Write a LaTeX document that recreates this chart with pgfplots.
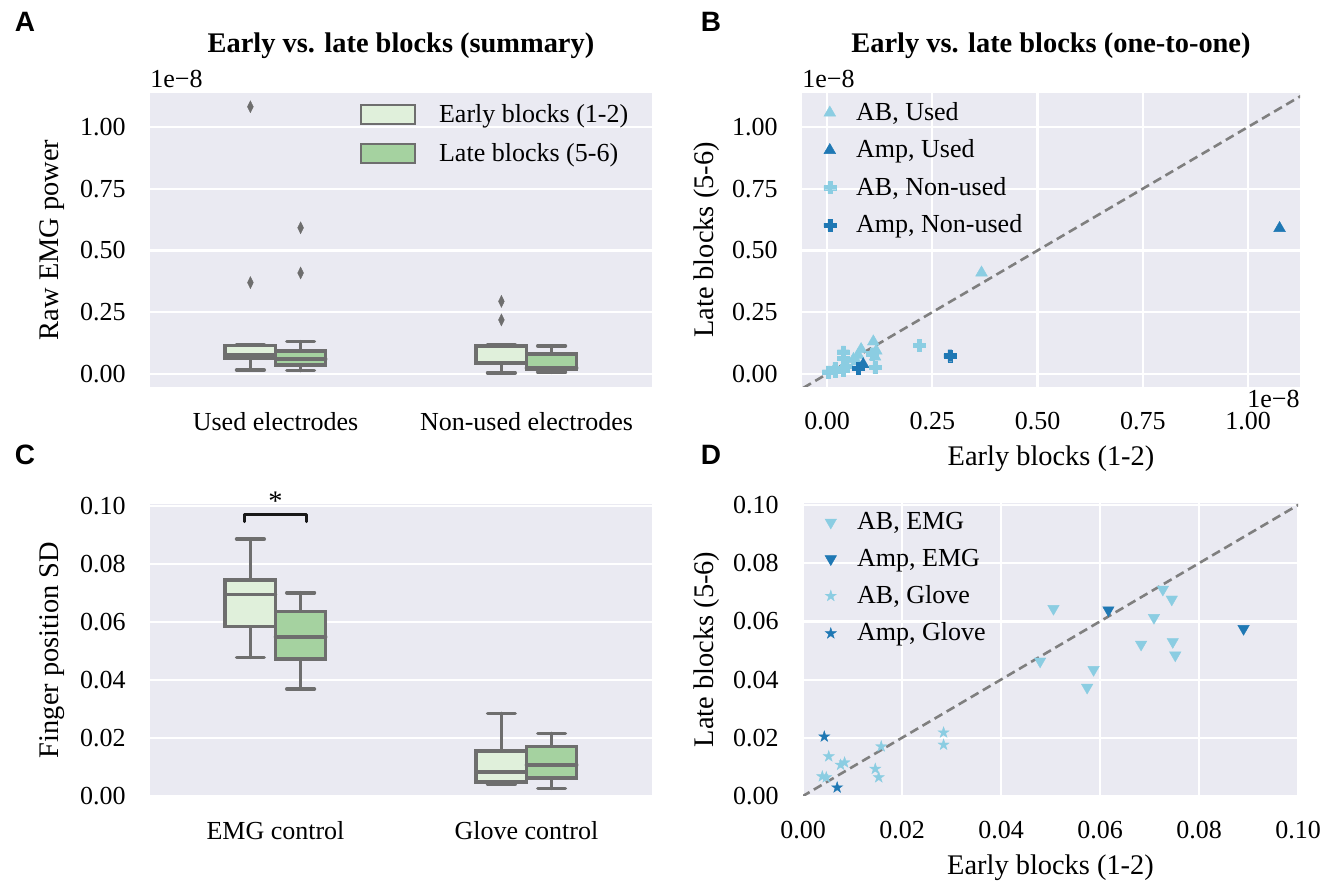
\documentclass[border=0pt]{standalone}
\usepackage{fontspec}
\setmainfont{Liberation Serif}
\newfontfamily\lettfont{Liberation Sans}
\usepackage{pgfplots}
\pgfplotsset{compat=1.18}
\usepgfplotslibrary{statistics}
\definecolor{bgc}{HTML}{EAEAF2}
\definecolor{earlyc}{HTML}{E0F0DB}
\definecolor{latec}{HTML}{A5D2A0}
\definecolor{boxg}{HTML}{6E6E6E}
\definecolor{lightb}{HTML}{8BCDE2}
\definecolor{darkb}{HTML}{1F78B4}
\definecolor{diag}{HTML}{7F7F7F}

\pgfdeclareplotmark{fplus}{%
  \pgfpathmoveto{\pgfpoint{-0.34\pgfplotmarksize}{-\pgfplotmarksize}}%
  \pgfpathlineto{\pgfpoint{0.34\pgfplotmarksize}{-\pgfplotmarksize}}%
  \pgfpathlineto{\pgfpoint{0.34\pgfplotmarksize}{-0.34\pgfplotmarksize}}%
  \pgfpathlineto{\pgfpoint{\pgfplotmarksize}{-0.34\pgfplotmarksize}}%
  \pgfpathlineto{\pgfpoint{\pgfplotmarksize}{0.34\pgfplotmarksize}}%
  \pgfpathlineto{\pgfpoint{0.34\pgfplotmarksize}{0.34\pgfplotmarksize}}%
  \pgfpathlineto{\pgfpoint{0.34\pgfplotmarksize}{\pgfplotmarksize}}%
  \pgfpathlineto{\pgfpoint{-0.34\pgfplotmarksize}{\pgfplotmarksize}}%
  \pgfpathlineto{\pgfpoint{-0.34\pgfplotmarksize}{0.34\pgfplotmarksize}}%
  \pgfpathlineto{\pgfpoint{-\pgfplotmarksize}{0.34\pgfplotmarksize}}%
  \pgfpathlineto{\pgfpoint{-\pgfplotmarksize}{-0.34\pgfplotmarksize}}%
  \pgfpathlineto{\pgfpoint{-0.34\pgfplotmarksize}{-0.34\pgfplotmarksize}}%
  \pgfpathclose\pgfusepathqfillstroke}
\pgfdeclareplotmark{fstar}{%
  \pgfpathmoveto{\pgfpointpolar{90}{\pgfplotmarksize}}%
  \pgfpathlineto{\pgfpointpolar{126}{0.382\pgfplotmarksize}}%
  \pgfpathlineto{\pgfpointpolar{162}{\pgfplotmarksize}}%
  \pgfpathlineto{\pgfpointpolar{198}{0.382\pgfplotmarksize}}%
  \pgfpathlineto{\pgfpointpolar{234}{\pgfplotmarksize}}%
  \pgfpathlineto{\pgfpointpolar{270}{0.382\pgfplotmarksize}}%
  \pgfpathlineto{\pgfpointpolar{306}{\pgfplotmarksize}}%
  \pgfpathlineto{\pgfpointpolar{342}{0.382\pgfplotmarksize}}%
  \pgfpathlineto{\pgfpointpolar{18}{\pgfplotmarksize}}%
  \pgfpathlineto{\pgfpointpolar{54}{0.382\pgfplotmarksize}}%
  \pgfpathclose\pgfusepathqfillstroke}

\pgfplotsset{
  sb/.style={
    scale only axis,
    axis background/.style={fill=bgc},
    axis line style={draw=none},
    grid=major,
    major grid style={draw=white, line width=1.1pt},
    major tick length=0pt,
    tick style={draw=none},
    scaled ticks=false,
    /pgf/number format/assume math mode=true,
    tick label style={font=\fontsize{13}{15}\selectfont},
    yticklabel style={xshift=-8.7pt},
    xticklabel style={yshift=-9pt},
    every axis y label/.style={at={(axis description cs:#1,0.5)}, rotate=90, anchor=center, font=\fontsize{14.2}{17}\selectfont},
    every axis x label/.style={at={(axis description cs:0.5,-0.245)}, anchor=center, font=\fontsize{14.2}{17}\selectfont},
    every axis title shift=0pt,
    title style={font=\bfseries\fontsize{14.2}{17}\selectfont, at={(0.5,1)}, anchor=center, yshift=23.5pt},
    legend style={draw=none, fill=none, font=\fontsize{13}{15}\selectfont,
      /tikz/every even column/.append style={column sep=0pt}},
    legend cell align=left,
    clip mode=individual,
  },
  bx/.style={forget plot, draw=boxg, line width=1.8pt, line cap=round, line join=miter,
    mark=diamond*, mark size=3pt, mark options={fill=boxg, draw=boxg, line width=0.2pt, xscale=0.65, solid},
    boxplot/draw direction=y, boxplot/box extend=0.2, boxplot/whisker extend=0.11},
  bxleg/.style={legend image code/.code={\draw[draw=boxg, line width=1pt, fill=#1] (0pt,-4.75pt) rectangle (27pt,4.75pt); \path (37pt,0pt);}},
  yfmt/.style={yticklabel style={/pgf/number format/.cd, fixed, fixed zerofill, precision=2}},
  xfmt/.style={xticklabel style={/pgf/number format/.cd, fixed, fixed zerofill, precision=2}},
  mkleg/.style={legend image code/.code={\path (-2pt,0pt) (19.5pt,0pt); \draw[mark repeat=2,mark phase=2,##1] plot coordinates {(0pt,0pt) (8.5pt,0pt) (17pt,0pt)};}},
}

\begin{document}
\begin{tikzpicture}
\useasboundingbox (0,0) rectangle (667.5pt,443pt);

% ---------------- Panel A ----------------
\begin{axis}[sb=-0.195, yfmt, xmajorgrids=false,
  at={(75pt,249.5pt)}, anchor=south west, width=251pt, height=147pt,
  xmin=-0.5, xmax=1.5, ymin=-0.0526, ymax=1.1377,
  xtick={0,1}, xticklabels={Used electrodes, Non-used electrodes},
  ytick={0,0.25,0.5,0.75,1},
  ylabel={Raw EMG power},
  title={Early vs. late blocks (summary)},
  legend style={at={(axis description cs:0.405,0.99)}, anchor=north west, row sep=4.8pt},
]
\addplot[bx, fill=earlyc, boxplot prepared={draw position=-0.1, lower whisker=0.016, lower quartile=0.063, median=0.078, upper quartile=0.115, upper whisker=0.117}]
  table[row sep=\\, y index=0] {y\\ 1.082\\ 0.370\\};
\addplot[bx, fill=latec, boxplot prepared={draw position=0.1, lower whisker=0.014, lower quartile=0.036, median=0.060, upper quartile=0.094, upper whisker=0.131}]
  table[row sep=\\, y index=0] {y\\ 0.592\\ 0.409\\};
\addplot[bx, fill=earlyc, boxplot prepared={draw position=0.9, lower whisker=0.005, lower quartile=0.043, median=0.046, upper quartile=0.113, upper whisker=0.117}]
  table[row sep=\\, y index=0] {y\\ 0.294\\ 0.219\\};
\addplot[bx, fill=latec, boxplot prepared={draw position=1.1, lower whisker=0.007, lower quartile=0.020, median=0.024, upper quartile=0.082, upper whisker=0.114}]
  coordinates {};
\addlegendimage{bxleg=earlyc}
\addlegendentry{Early blocks (1-2)}
\addlegendimage{bxleg=latec}
\addlegendentry{Late blocks (5-6)}
\node[anchor=south west, inner sep=0pt, font=\fontsize{13}{15}\selectfont] at (rel axis cs:0,1) [yshift=2.5pt] {1e−8};
\end{axis}

% ---------------- Panel B ----------------
\begin{axis}[sb=-0.191, yfmt, xfmt,
  at={(401pt,249.5pt)}, anchor=south west, width=249pt, height=147pt,
  xmin=-0.0594, xmax=1.1235, ymin=-0.0526, ymax=1.1377,
  xtick={0,0.25,0.5,0.75,1}, ytick={0,0.25,0.5,0.75,1},
  xlabel={Early blocks (1-2)}, ylabel={Late blocks (5-6)},
  title={Early vs. late blocks (one-to-one)},
  legend style={at={(axis description cs:0.0,0.997)}, anchor=north west, row sep=4.2pt},
]
\addplot[forget plot, diag, dashed, dash pattern=on 4.5pt off 2.5pt, line width=1.3pt] coordinates {(-0.2,-0.2) (1.3,1.3)};
\addplot[mkleg, only marks, mark=triangle*, mark size=3.4pt, mark options={fill=lightb, draw=lightb, line width=0.2pt}]
  coordinates {(0.367,0.410) (0.110,0.131) (0.074,0.077) (0.114,0.070) (0.117,0.094) (0.063,0.060) (0.045,0.036) (0.016,0.014) (0.070,0.050) (0.081,0.100)};
\addlegendentry{AB, Used}
\addplot[mkleg, only marks, mark=triangle*, mark size=3.4pt, mark options={fill=darkb, draw=darkb, line width=0.2pt}]
  coordinates {(1.075,0.590) (0.086,0.039)};
\addlegendentry{Amp, Used}
\addplot[mkleg, only marks, mark=fplus, mark size=3pt, mark options={fill=lightb, draw=lightb, line width=0.2pt}]
  coordinates {(0.219,0.115) (0.003,0.009) (0.019,0.023) (0.039,0.090) (0.039,0.064) (0.039,0.016) (0.114,0.026) (0.045,0.030) (0.108,0.082) (0.020,0.010)};
\addlegendentry{AB, Non-used}
\addplot[mkleg, only marks, mark=fplus, mark size=3pt, mark options={fill=darkb, draw=darkb, line width=0.2pt}]
  coordinates {(0.292,0.074) (0.074,0.023)};
\addlegendentry{Amp, Non-used}
\node[anchor=south west, inner sep=0pt, font=\fontsize{13}{15}\selectfont] at (rel axis cs:0,1) [yshift=2.5pt] {1e−8};
\node[anchor=north east, inner sep=0pt, font=\fontsize{13}{15}\selectfont] at (rel axis cs:1,0) [yshift=-1.5pt] {1e−8};
\end{axis}

% ---------------- Panel C ----------------
\begin{axis}[sb=-0.195, yfmt, xmajorgrids=false,
  at={(75pt,45pt)}, anchor=south west, width=251pt, height=146pt,
  xmin=-0.5, xmax=1.5, ymin=0, ymax=0.1007,
  xtick={0,1}, xticklabels={EMG control, Glove control},
  ytick={0,0.02,0.04,0.06,0.08,0.1},
  ylabel={Finger position SD},
]
\addplot[bx, fill=earlyc, boxplot prepared={draw position=-0.1, lower whisker=0.0478, lower quartile=0.0584, median=0.0695, upper quartile=0.0745, upper whisker=0.0886}] coordinates {};
\addplot[bx, fill=latec, boxplot prepared={draw position=0.1, lower whisker=0.0369, lower quartile=0.0472, median=0.0549, upper quartile=0.0636, upper whisker=0.0701}] coordinates {};
\addplot[bx, fill=earlyc, boxplot prepared={draw position=0.9, lower whisker=0.0041, lower quartile=0.0049, median=0.0082, upper quartile=0.0155, upper whisker=0.0285}] coordinates {};
\addplot[bx, fill=latec, boxplot prepared={draw position=1.1, lower whisker=0.0026, lower quartile=0.0063, median=0.0107, upper quartile=0.0170, upper whisker=0.0216}] coordinates {};
\draw[line width=1.5pt, line cap=round, line join=round, black!90] (axis cs:-0.122,0.0946) -- (axis cs:-0.122,0.0971) -- (axis cs:0.122,0.0971) -- (axis cs:0.122,0.0946);
\node[anchor=base, inner sep=0pt, font=\fontsize{14.2}{17}\selectfont] at (axis cs:0,0.0983) {*};
\end{axis}

% ---------------- Panel D ----------------
\begin{axis}[sb=-0.194, yfmt, xfmt,
  at={(401.5pt,45pt)}, anchor=south west, width=247.5pt, height=146.5pt,
  xmin=0, xmax=0.1, ymin=0, ymax=0.1007,
  xtick={0,0.02,0.04,0.06,0.08,0.1}, ytick={0,0.02,0.04,0.06,0.08,0.1},
  xlabel={Early blocks (1-2)}, ylabel={Late blocks (5-6)},
  legend style={at={(axis description cs:0.0,0.997)}, anchor=north west, row sep=4.2pt},
]
\addplot[forget plot, diag, dashed, dash pattern=on 4.5pt off 2.5pt, line width=1.3pt] coordinates {(-0.01,-0.01) (0.11,0.11)};
\addplot[mkleg, only marks, mark=triangle*, mark size=3.3pt, mark options={rotate=180, fill=lightb, draw=lightb, line width=0.2pt}]
  coordinates {(0.0506,0.0644) (0.0479,0.0463) (0.0574,0.0373) (0.0587,0.0434) (0.0727,0.0710) (0.0745,0.0676) (0.0709,0.0613) (0.0683,0.0521) (0.0747,0.0530) (0.0752,0.0484)};
\addlegendentry{AB, EMG}
\addplot[mkleg, only marks, mark=triangle*, mark size=3.3pt, mark options={rotate=180, fill=darkb, draw=darkb, line width=0.2pt}]
  coordinates {(0.0617,0.0639) (0.0890,0.0575)};
\addlegendentry{Amp, EMG}
\addplot[mkleg, only marks, mark=fstar, mark size=2.9pt, mark options={fill=lightb, draw=lightb, line width=0.2pt}]
  coordinates {(0.0052,0.0136) (0.0076,0.0107) (0.0084,0.0115) (0.0039,0.0067) (0.0047,0.0064) (0.0158,0.0170) (0.0146,0.0093) (0.0153,0.0064) (0.0284,0.0218) (0.0284,0.0176)};
\addlegendentry{AB, Glove}
\addplot[mkleg, only marks, mark=fstar, mark size=2.9pt, mark options={fill=darkb, draw=darkb, line width=0.2pt}]
  coordinates {(0.0043,0.0204) (0.0069,0.0029)};
\addlegendentry{Amp, Glove}
\end{axis}

% panel letters
\node[font=\lettfont\bfseries\fontsize{14}{16}\selectfont] at (12.5pt,432pt) {A};
\node[font=\lettfont\bfseries\fontsize{14}{16}\selectfont] at (355.5pt,432pt) {B};
\node[font=\lettfont\bfseries\fontsize{14}{16}\selectfont] at (12.5pt,215.5pt) {C};
\node[font=\lettfont\bfseries\fontsize{14}{16}\selectfont] at (355.5pt,215.5pt) {D};
\end{tikzpicture}
\end{document}
